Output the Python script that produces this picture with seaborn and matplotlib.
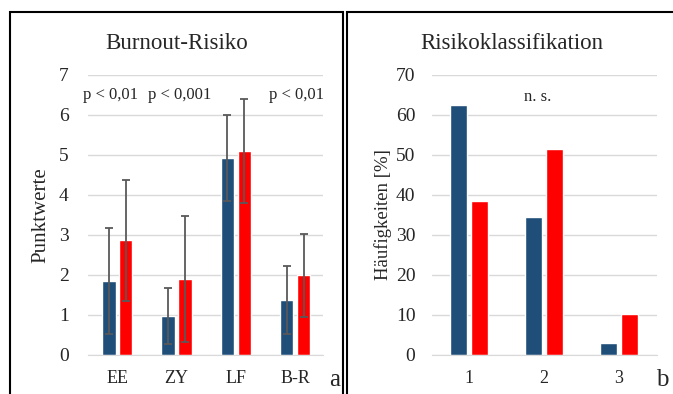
import numpy as np
import pandas as pd
import seaborn as sns
import matplotlib.pyplot as plt
from matplotlib.patches import Rectangle

# Burnout-Risiko (left panel)
burnout_cats = ['EE', 'ZY', 'LF', 'B-R']
burnout_blue = [1.85, 0.98, 4.92, 1.37]
burnout_red = [2.87, 1.90, 5.10, 1.99]
burnout_blue_sd = [1.32, 0.70, 1.08, 0.85]
burnout_red_sd = [1.51, 1.57, 1.29, 1.04]
pvalue_labels = ['p < 0,01', 'p < 0,001', '', 'p < 0,01']

# Risikoklassifikation (right panel)
risk_cats = ['1', '2', '3']
risk_blue = [62.5, 34.5, 3.0]
risk_red = [38.5, 51.4, 10.3]

BLUE = '#1F4E79'
RED = '#FF0000'

sns.set_style('white')
plt.rcParams['font.family'] = ['Liberation Serif', 'DejaVu Serif']

fig = plt.figure(figsize=(6.73, 3.94), dpi=100)
ax1 = fig.add_axes([0.131, 0.099, 0.349, 0.711])
ax2 = fig.add_axes([0.642, 0.099, 0.334, 0.711])

left_df = pd.DataFrame({
    'cat': burnout_cats * 2,
    'grp': ['A'] * 4 + ['B'] * 4,
    'val': burnout_blue + burnout_red,
})
right_df = pd.DataFrame({
    'cat': risk_cats * 2,
    'grp': ['A'] * 3 + ['B'] * 3,
    'val': risk_blue + risk_red,
})

sns.barplot(data=left_df, x='cat', y='val', hue='grp', palette=[BLUE, RED],
            width=0.57, gap=0.2, ax=ax1, legend=False, saturation=1, errorbar=None)
sns.barplot(data=right_df, x='cat', y='val', hue='grp', palette=[BLUE, RED],
            width=0.56, gap=0.19, ax=ax2, legend=False, saturation=1, errorbar=None)

# error bars from the bar containers
for cont, means, sds in zip(ax1.containers, [burnout_blue, burnout_red],
                            [burnout_blue_sd, burnout_red_sd]):
    xs = [p.get_x() + p.get_width() / 2 for p in cont.patches]
    ax1.errorbar(xs, means, yerr=sds, fmt='none', ecolor='#595959',
                 elinewidth=1.3, capsize=3, capthick=1.3, zorder=5)

p_offsets = [-0.12, 0.06, 0, 0.03]
for i, lab in enumerate(pvalue_labels):
    if lab:
        ax1.text(i + p_offsets[i], 6.5, lab, ha='center', va='center', fontsize=12)
ax2.text(0.92, 64.5, 'n. s.', ha='center', va='center', fontsize=12)

for ax in (ax1, ax2):
    ax.yaxis.grid(True, color='#D9D9D9', linewidth=1)
    ax.set_axisbelow(True)
    for s in ['top', 'right', 'left']:
        ax.spines[s].set_visible(False)
    ax.spines['bottom'].set_color('#D9D9D9')
    ax.tick_params(length=0)
    ax.set_xlabel('')

ax1.set_ylim(0, 7)
ax1.set_yticks(range(0, 8))
ax1.tick_params(axis='y', labelsize=14, pad=14)
ax1.tick_params(axis='x', labelsize=13, pad=11)
ax1.set_ylabel('Punktwerte', fontsize=15, labelpad=6)
ax1.set_xlim(-0.49, 3.47)

ax2.set_ylim(0, 70)
ax2.set_yticks(range(0, 71, 10))
ax2.tick_params(axis='y', labelsize=14, pad=12)
ax2.tick_params(axis='x', labelsize=13, pad=11)
ax2.set_ylabel('Häufigkeiten [%]', fontsize=13.5, labelpad=3)
ax2.set_xlim(-0.49, 2.51)

fig.text(0.262, 0.89, 'Burnout-Risiko', ha='center', va='center', fontsize=16.5)
fig.text(0.76, 0.89, 'Risikoklassifikation', ha='center', va='center', fontsize=16.5)
fig.text(0.497, 0.035, 'a', ha='center', va='center', fontsize=18)
fig.text(0.984, 0.035, 'b', ha='center', va='center', fontsize=18)

# panel frames
fig.patches.append(Rectangle((10 / 673, -0.1), (343 - 10) / 673, 1.1 - 12.5 / 394,
                             transform=fig.transFigure, fill=False, edgecolor='black', linewidth=1.5))
fig.patches.append(Rectangle((347 / 673, -0.1), (700 - 347) / 673, 1.1 - 12.5 / 394,
                             transform=fig.transFigure, fill=False, edgecolor='black', linewidth=1.5))

fig.savefig('out.png', dpi=100)
